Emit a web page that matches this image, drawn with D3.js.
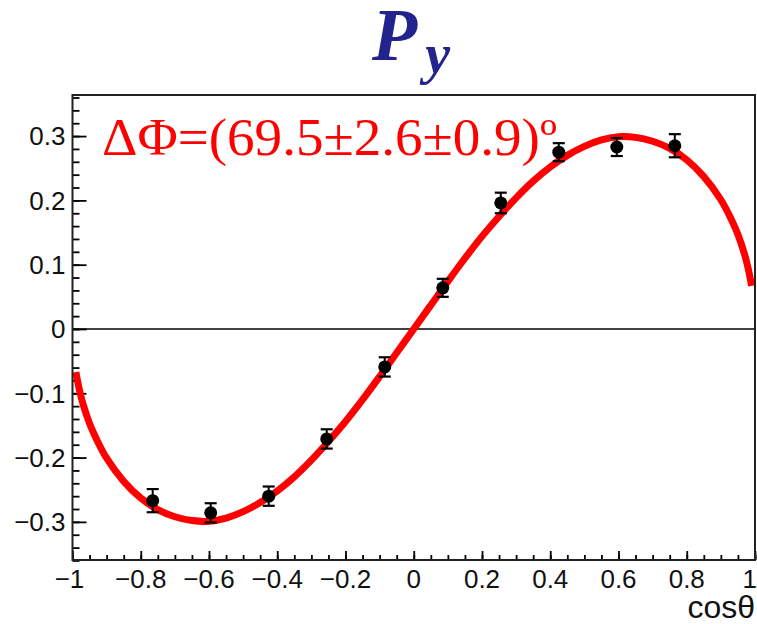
<!DOCTYPE html>
<html>
<head>
<meta charset="utf-8">
<script src="https://cdn.jsdelivr.net/npm/d3@7"></script>
<style>
  html, body { margin: 0; padding: 0; background: #fff; }
  svg { display: block; }
</style>
</head>
<body>
<div id="chart"></div>
<script>
// Py vs cos(theta), data points + fitted curve
var binCenters = [-0.765, -0.595, -0.425, -0.255, -0.085, 0.085, 0.255, 0.425, 0.595, 0.765];
var pyValues   = [-0.267, -0.286, -0.260, -0.171, -0.059, 0.064, 0.196, 0.275, 0.283, 0.285];
var pyErrors   = [0.018, 0.015, 0.015, 0.015, 0.015, 0.014, 0.016, 0.014, 0.014, 0.018];

// fit curve
var fitX = [-0.99, -0.98, -0.97, -0.95, -0.93, -0.9, -0.85, -0.8, -0.75, -0.7, -0.65, -0.6, -0.55, -0.5,
            -0.45, -0.4, -0.35, -0.3, -0.25, -0.2, -0.15, -0.1, -0.05, 0,
            0.05, 0.1, 0.15, 0.2, 0.25, 0.3, 0.35, 0.4, 0.45, 0.5, 0.55, 0.6, 0.65, 0.7,
            0.75, 0.8, 0.85, 0.9, 0.93, 0.95, 0.97, 0.98, 0.99];
var fitY = [-0.067, -0.094, -0.115, -0.147, -0.171, -0.201, -0.237, -0.263, -0.281, -0.292, -0.298, -0.299, -0.294, -0.284,
            -0.270, -0.252, -0.230, -0.204, -0.175, -0.144, -0.110, -0.074, -0.037, 0.0,
            0.037, 0.074, 0.110, 0.144, 0.175, 0.204, 0.230, 0.252, 0.270, 0.284, 0.294, 0.299, 0.298, 0.292,
            0.281, 0.263, 0.237, 0.201, 0.171, 0.147, 0.115, 0.094, 0.067];

var xMajor = d3.range(-1, 1.0001, 0.2);
var xMinor = d3.range(-1, 1.0001, 0.05);
var yMajor = d3.range(-0.3, 0.3001, 0.1);
var yMinor = d3.range(-0.36, 0.3601, 0.02);

(function() {
  'use strict';

  var W = 757, H = 624;
  var mLeft = 72.5, mRight = 755, mTop = 95, mBottom = 560;

  var svg = d3.select('#chart').append('svg')
    .attr('width', W)
    .attr('height', H);

  var x = d3.scaleLinear().domain([-1, 1]).range([mLeft, mRight]);
  var y = d3.scaleLinear().domain([-0.3593, 0.3639]).range([mBottom, mTop]);

  function fmt(v) {
    if (Math.abs(v) < 1e-9) return '0';
    var s = d3.format('.1f')(v).replace('-', '\u2212').replace('\u2212\u2212', '\u2212');
    if (s === '1.0') s = '1';
    if (s === '\u22121.0') s = '\u22121';
    return s;
  }

  // zero line
  svg.append('line')
    .attr('x1', mLeft).attr('x2', mRight)
    .attr('y1', y(0)).attr('y2', y(0))
    .attr('stroke', '#000')
    .attr('stroke-width', 1.6);

  // y axis ticks
  var gy = svg.append('g').attr('transform', 'translate(' + mLeft + ',0)');
  gy.append('g').call(d3.axisRight(y).tickValues(yMinor).tickSize(7).tickFormat(''));
  gy.append('g').call(d3.axisRight(y).tickValues(yMajor).tickSize(14).tickFormat(''));
  gy.selectAll('.domain').remove();
  gy.selectAll('line').attr('stroke', '#000').attr('stroke-width', 1.8);

  gy.selectAll('.ylab')
    .data(yMajor)
    .enter().append('text')
    .attr('class', 'ylab')
    .attr('x', -7)
    .attr('y', function(d) { return y(d); })
    .attr('dy', '0.36em')
    .attr('text-anchor', 'end')
    .attr('font-family', 'Liberation Sans, Arial, sans-serif')
    .attr('font-size', '26px')
    .attr('fill', '#111')
    .text(function(d) { return fmt(d); });

  // x axis ticks
  var gx = svg.append('g').attr('transform', 'translate(0,' + mBottom + ')');
  gx.append('g').call(d3.axisTop(x).tickValues(xMinor).tickSize(5).tickFormat(''));
  gx.append('g').call(d3.axisTop(x).tickValues(xMajor).tickSize(9).tickFormat(''));
  gx.selectAll('.domain').remove();
  gx.selectAll('line').attr('stroke', '#000').attr('stroke-width', 1.8);

  gx.selectAll('.xlab')
    .data(xMajor)
    .enter().append('text')
    .attr('class', 'xlab')
    .attr('x', function(d) { return x(d); })
    .attr('y', 28)
    .attr('text-anchor', function(d) { return d > 0.99 ? 'end' : 'middle'; })
    .attr('dx', function(d) { return d > 0.99 ? 2 : (d < -0.99 ? -3 : 0); })
    .attr('font-family', 'Liberation Sans, Arial, sans-serif')
    .attr('font-size', '26px')
    .attr('fill', '#111')
    .text(function(d) { return fmt(d); });

  svg.append('text')
    .attr('x', mRight)
    .attr('y', 618)
    .attr('text-anchor', 'end')
    .attr('font-family', 'Liberation Sans, Arial, sans-serif')
    .attr('font-size', '32px')
    .attr('fill', '#111')
    .text('cosθ');

  // fitted curve
  var line = d3.line()
    .x(function(d) { return x(d[0]); })
    .y(function(d) { return y(d[1]); })
    .curve(d3.curveCatmullRom);

  svg.append('path')
    .datum(d3.zip(fitX, fitY))
    .attr('d', line)
    .attr('fill', 'none')
    .attr('stroke', '#ff0000')
    .attr('stroke-width', 7)
    .attr('stroke-linecap', 'butt');

  // data points with error bars
  var pts = svg.selectAll('.pt')
    .data(d3.range(binCenters.length))
    .enter().append('g')
    .attr('class', 'pt');

  pts.append('line')
    .attr('x1', function(i) { return x(binCenters[i]); })
    .attr('x2', function(i) { return x(binCenters[i]); })
    .attr('y1', function(i) { return y(pyValues[i] - pyErrors[i]); })
    .attr('y2', function(i) { return y(pyValues[i] + pyErrors[i]); })
    .attr('stroke', '#000')
    .attr('stroke-width', 2);

  [1, -1].forEach(function(s) {
    pts.append('line')
      .attr('x1', function(i) { return x(binCenters[i]) - 6; })
      .attr('x2', function(i) { return x(binCenters[i]) + 6; })
      .attr('y1', function(i) { return y(pyValues[i] + s * pyErrors[i]); })
      .attr('y2', function(i) { return y(pyValues[i] + s * pyErrors[i]); })
      .attr('stroke', '#000')
      .attr('stroke-width', 2.2);
  });

  pts.append('circle')
    .attr('cx', function(i) { return x(binCenters[i]); })
    .attr('cy', function(i) { return y(pyValues[i]); })
    .attr('r', 6.5)
    .attr('fill', '#000');

  // frame
  svg.append('rect')
    .attr('x', mLeft).attr('y', mTop)
    .attr('width', mRight - mLeft).attr('height', mBottom - mTop)
    .attr('fill', 'none')
    .attr('stroke', '#222')
    .attr('stroke-width', 2);

  // annotation
  svg.append('text')
    .attr('x', 102)
    .attr('y', 155)
    .attr('font-family', 'Liberation Serif, Times New Roman, serif')
    .attr('font-size', '52px')
    .attr('textLength', 455)
    .attr('lengthAdjust', 'spacingAndGlyphs')
    .attr('fill', '#ff0000')
    .text('ΔΦ=(69.5±2.6±0.9)º');

  // title
  var title = svg.append('text')
    .attr('x', 372)
    .attr('y', 60)
    .attr('font-family', 'Liberation Serif, Times New Roman, serif')
    .attr('font-weight', 'bold')
    .attr('font-style', 'italic')
    .attr('fill', '#23238e');
  title.append('tspan').attr('font-size', '74px').text('P');
  title.append('tspan').attr('font-size', '56px').attr('dx', 8).attr('dy', 13).text('y');
})();
</script>
</body>
</html>
